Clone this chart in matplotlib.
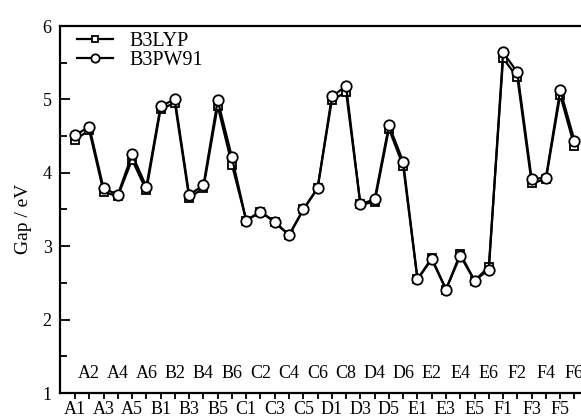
import matplotlib
matplotlib.use('Agg')
import matplotlib.pyplot as plt
from matplotlib.ticker import MultipleLocator

plt.rcParams['font.family'] = ['Liberation Serif', 'DejaVu Serif']

# tick labels as printed (bottom row = even positions, top row = odd positions)
labels = ['A1', 'A2', 'A3', 'A4', 'A5', 'A6',
          'B1', 'B2', 'B3', 'B4', 'B5', 'B6',
          'C1', 'C2', 'C3', 'C4', 'C5', 'C6', 'D1', 'C8',
          'D3', 'D4', 'D5', 'D6',
          'E1', 'E2', 'E3', 'E4', 'E5', 'E6',
          'F1', 'F2', 'F3', 'F4', 'F5', 'F6']

b3lyp = [4.45, 4.58, 3.74, 3.68, 4.18, 3.76,
         4.87, 4.95, 3.66, 3.79, 4.91, 4.11,
         3.35, 3.47, 3.33, 3.15, 3.50, 3.79, 4.99, 5.10,
         3.57, 3.60, 4.60, 4.09, 2.55, 2.84,
         2.41, 2.90, 2.53, 2.72, 5.56, 5.30,
         3.86, 3.91, 5.06, 4.36]

b3pw91 = [4.51, 4.63, 3.79, 3.70, 4.25, 3.81,
          4.91, 5.00, 3.70, 3.83, 4.99, 4.21,
          3.35, 3.47, 3.33, 3.15, 3.50, 3.79, 5.04, 5.18,
          3.57, 3.64, 4.65, 4.15, 2.55, 2.82,
          2.41, 2.87, 2.53, 2.68, 5.64, 5.37,
          3.92, 3.93, 5.13, 4.44]

x = list(range(len(labels)))

fig = plt.figure(figsize=(5.81, 4.19), dpi=100)
# axes runs past the right edge, like the cropped original
ax = fig.add_axes([60 / 581, 26 / 419, 533 / 581, 367 / 419])

ax.plot(x, b3lyp, '-s', color='black', lw=1.6, ms=6, mfc='white',
        mec='black', mew=1.3, label='B3LYP')
ax.plot(x, b3pw91, '-o', color='black', lw=1.6, ms=7.5, mfc='white',
        mec='black', mew=1.3, label='B3PW91')

ax.set_xlim(-1.05, 36.3)
ax.set_ylim(1, 6)
ax.yaxis.set_major_locator(MultipleLocator(1))
ax.yaxis.set_minor_locator(MultipleLocator(0.5))

ax.set_xticks(x)
ax.set_xticklabels([lab if i % 2 == 0 else '' for i, lab in enumerate(labels)])
for i, lab in enumerate(labels):
    if i % 2 == 1:
        ax.text(i, 0.052, lab, transform=ax.get_xaxis_transform(),
                ha='center', va='center', fontsize=13)

ax.tick_params(axis='x', direction='out', length=4, width=1.3, pad=2,
               labelsize=13)
ax.tick_params(axis='y', which='major', direction='in', length=7, width=1.3,
               labelsize=13, pad=6)
ax.tick_params(axis='y', which='minor', direction='in', length=5, width=1.3)

for s in ax.spines.values():
    s.set_linewidth(1.6)

ax.set_ylabel('Gap / eV', fontsize=14)
ax.yaxis.set_label_coords(-0.053, 0.474)

ax.legend(loc='upper left', bbox_to_anchor=(0.032, 0.985), frameon=False,
          fontsize=14.5, handlelength=1.8, borderaxespad=0, borderpad=0,
          labelspacing=0.0, handletextpad=0.8, markerscale=0.8)

fig.savefig('out.png', dpi=100)
